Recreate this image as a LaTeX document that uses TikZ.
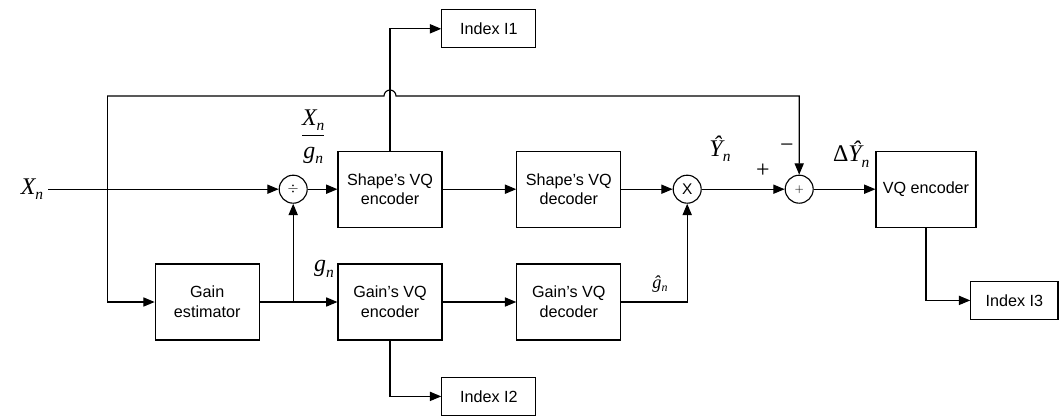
\documentclass[tikz,border=0pt]{standalone}
\usepackage{amsmath}
\usepackage{fontspec}
\setmainfont{Liberation Sans}
\newfontfamily\sigfont{Liberation Serif}
\usepackage{tikz}
\usetikzlibrary{calc}
\usetikzlibrary{positioning}
\usetikzlibrary{arrows.meta}

% lowered italic index for the signal names
\newcommand{\sigsub}[1]{\raisebox{-0.5ex}{\fontsize{11}{12}\selectfont\itshape #1}}

\begin{document}
\begin{tikzpicture}[line width=0.8pt, >={Triangle[length=8pt,width=6.5pt]},
  block/.style={draw,minimum width=2.6cm,minimum height=1.9cm,align=center,
    font=\fontsize{11.5}{14}\selectfont},
  index/.style={draw,minimum width=2.35cm,minimum height=0.95cm,
    font=\fontsize{11.5}{14}\selectfont},
  junction/.style={circle,draw,minimum size=0.7cm,inner sep=0pt},
  sig/.style={inner sep=0.5pt,font=\sigfont\itshape\fontsize{17}{20}\selectfont},
  sign/.style={inner sep=0.5pt,font=\sigfont\fontsize{17}{20}\selectfont}]

\useasboundingbox (0,0) rectangle (26.6,-10.475);

% blocks
\node [block] (gest) at (5.18,-7.55) {Gain\\estimator};
\node [block] (senc) at (9.75,-4.73) {Shape's VQ\\encoder};
\node [block] (genc) at (9.75,-7.55) {Gain's VQ\\encoder};
\node [block] (sdec) at (14.22,-4.73) {Shape's VQ\\decoder};
\node [block] (gdec) at (14.22,-7.55) {Gain's VQ\\decoder};
\node [block, minimum width=2.5cm] (vqenc) at (23.15,-4.73) {VQ encoder};

\node [index] (idx1) at (12.22,-0.72) {Index I1};
\node [index] (idx2) at (12.22,-9.91) {Index I2};
\node [index, minimum width=2.18cm] (idx3) at (25.36,-7.51) {Index I3};

% divider, multiplier and adder
\node [junction] (div) at (7.33,-4.73) {$\div$};
\node [junction, font=\fontsize{11}{13}\selectfont] (mult) at (17.18,-4.73) {X};
\node [junction, font=\footnotesize] (add) at (19.98,-4.73) {$+$};

% input
\node [sig] (xin) at (0.8,-4.73) {X\sigsub{n}};
\coordinate (top) at (2.68,-2.4);

\draw [->] (xin.east) ++(0.1,0) -- (div.west);
\draw [->] (top) |- (gest.west);
\draw [->] (top) -- (9.6,-2.4) arc (180:0:0.15) -| (add.north);

\draw [->] (gest.east) -- (genc.west);
\draw [->] (div |- gest.east) -- (div.south);
\draw [->] (div.east) -- (senc.west);

\draw [->] (senc.north) |- (idx1.west);
\draw [->] (senc.east) -- (sdec.west);
\draw [->] (sdec.east) -- (mult.west);

\draw [->] (genc.south) |- (idx2.west);
\draw [->] (genc.east) -- (gdec.west);
\draw [->] (gdec.east) -| (mult.south);

\draw [->] (mult.east) -- (add.west);
\draw [->] (add.east) -- (vqenc.west);
\draw [->] (vqenc.south) |- (idx3.west);

% signal labels
\node [sig] (ratio) at (7.83,-3.42) {$\dfrac{\text{X\sigsub{n}}}{\text{g\sigsub{n}}}$};
\node [sig] (gain) at (8.1,-6.72) {g\sigsub{n}};
\node [sig] (yhat) at (18.0,-3.72) {Ŷ\sigsub{n}};
\node [sign] (plus) at (19.07,-4.28) {+};
\node [sign] (minus) at (19.67,-3.7) {−};
\node [sig] (dyhat) at (21.28,-3.85) {{\upshape Δ}Ŷ\sigsub{n}};
\node [inner sep=0.5pt, font=\sigfont\itshape\fontsize{13}{15}\selectfont] (ghat) at (16.5,-7.1)
  {ĝ\raisebox{-0.4ex}{\fontsize{8.5}{10}\selectfont n}};

\end{tikzpicture}
\end{document}
